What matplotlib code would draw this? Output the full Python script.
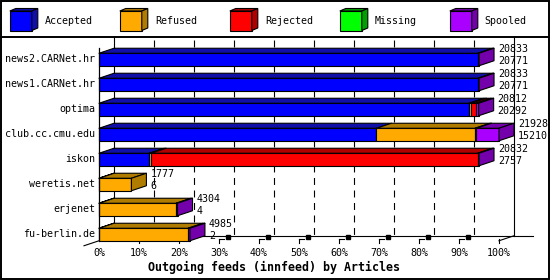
"""Outgoing feeds (innfeed) by Articles - 3D stacked bars, innreport style."""

import matplotlib
matplotlib.use("Agg")
import matplotlib.pyplot as plt
from matplotlib.patches import Polygon, Rectangle
from matplotlib.collections import PolyCollection
import numpy as np

plt.rcParams["font.family"] = ["DejaVu Sans Mono"]
plt.rcParams["lines.scale_dashes"] = False

hosts = ["news2.CARNet.hr", "news1.CARNet.hr", "optima", "club.cc.cmu.edu",
         "iskon", "weretis.net", "erjenet", "fu-berlin.de"]
categories = ["Accepted", "Refused", "Rejected", "Missing", "Spooled"]
accepted = [20771, 20771, 20292, 15210, 2757, 6, 4, 2]
refused = [0, 0, 120, 5410, 100, 1771, 4220, 4880]
rejected = [0, 0, 260, 70, 17900, 0, 0, 0]
missing = [0, 0, 0, 0, 0, 0, 0, 0]
spooled = [62, 62, 140, 1238, 75, 0, 80, 103]
totals = [20833, 20833, 20812, 21928, 20832, 1777, 4304, 4985]
tick_labels = ["0%", "10%", "20%", "30%", "40%", "50%",
               "60%", "70%", "80%", "90%", "100%"]

front_colors = ["#0000ff", "#ffaa00", "#ff0000", "#00ff00", "#aa00ff"]
dark_colors = ["#1010a8", "#b07c00", "#b00000", "#00a000", "#7400ac"]

W, H = 550, 280
M = max(totals)
PX = M / 400.0          # articles per pixel along x
ROW = 25.0              # pixels per row
DX = 15 * PX            # depth offset (x, data units)
DY = -5 / ROW           # depth offset (y, rows)
BH = 0.5                # bar height in rows


def main() -> None:
    fig = plt.figure(figsize=(W / 100, H / 100), dpi=100)
    ax = fig.add_axes([0, 0, 1, 1])
    ax.set_xlim(-99 * PX, (W - 99) * PX)
    ax.set_ylim((H - 59.5) / ROW, -59.5 / ROW)
    ax.axis("off")

    rows = np.arange(len(hosts))
    series = np.array([accepted, refused, rejected, missing, spooled], dtype=float)
    floor_back = rows[-1] + BH / 2 + DY
    floor_front = rows[-1] + BH / 2
    top_y = (40 - 59.5) / ROW
    sep_y = (37 - 59.5) / ROW

    # back wall grid
    for k in range(11):
        xb = k * M / 10 + DX
        if k in (0, 10):
            ax.plot([xb, xb], [sep_y, floor_back], color="black", lw=0.8, zorder=1)
        else:
            ax.plot([xb, xb], [top_y, floor_back], color="black", lw=0.8,
                    dashes=(5, 4), zorder=1)
    # floor
    ax.plot([DX, M + DX + 19 * PX], [floor_back, floor_back], color="black", lw=0.8, zorder=1)
    ax.plot([M, M + DX], [floor_front, floor_back], color="black", lw=0.8, zorder=1)
    ax.plot([-15 * PX, 0], [floor_front - DY, floor_front], color="black", lw=0.8, zorder=1)
    # front axis
    ax.plot([0, 0], [(48 - 59.5) / ROW, floor_front], color="black", lw=0.9, zorder=5)

    # ticks along the front edge
    for k in range(1, 11):
        xf = k * M / 10
        ax.plot([xf, xf], [floor_front + 2 / ROW, floor_front - 2 / ROW],
                color="black", lw=0.8, zorder=1)
        if k < 10:
            ax.plot([xf, xf + 5 * PX], [floor_front - 2 / ROW, floor_front - 2 / ROW],
                    color="black", lw=0.8, zorder=1)
            ax.plot([xf + 8.5 * PX], [floor_front - 3.5 / ROW], marker="s", ms=2.2,
                    color="black", zorder=1)
        ax.text(xf - M / 10 * (k == 0), floor_front + 12 / ROW, tick_labels[k],
                ha="center", va="center", fontsize=7.2)
    ax.text(0, floor_front + 12 / ROW, tick_labels[0], ha="center", va="center", fontsize=7.2)

    # bars
    lefts = np.zeros(len(hosts))
    for ci in range(len(categories)):
        vals = series[ci]
        mask = vals > 0
        ax.barh(rows[mask], vals[mask], left=lefts[mask], height=BH,
                color=front_colors[ci], edgecolor="black", linewidth=0.8, zorder=3)
        tops = []
        for r in rows[mask]:
            l, w = lefts[r], vals[r]
            yt = r - BH / 2
            tops.append([(l, yt), (l + w, yt), (l + w + DX, yt + DY), (l + DX, yt + DY)])
        ax.add_collection(PolyCollection(tops, facecolors=dark_colors[ci],
                                         edgecolors="black", linewidths=0.8, zorder=3))
        lefts = lefts + vals

    for r in rows:
        last = max(ci for ci in range(len(categories)) if series[ci][r] > 0)
        right = lefts[r]
        yt, yb = r - BH / 2, r + BH / 2
        ax.add_patch(Polygon([(right, yt), (right + DX, yt + DY), (right + DX, yb + DY),
                              (right, yb)], closed=True, facecolor=dark_colors[last],
                             edgecolor="black", linewidth=0.8, zorder=3))
        xl = totals[r] + DX + 4 * PX
        ax.text(xl, r - 10 / ROW, str(totals[r]), ha="left", va="center", fontsize=7.2, zorder=6)
        ax.text(xl, r + 2 / ROW, str(accepted[r]), ha="left", va="center", fontsize=7.2, zorder=6)
        ax.text(-4 * PX, r, hosts[r], ha="right", va="center", fontsize=7.2)

    # overlay in pixel units: frame, legend, title
    ov = fig.add_axes([0, 0, 1, 1], zorder=10)
    ov.set_xlim(0, W)
    ov.set_ylim(H, 0)
    ov.axis("off")
    ov.patch.set_alpha(0)
    ov.add_patch(Rectangle((1, 1), W - 2, H - 2, fill=False, edgecolor="black", lw=1.4))
    ov.plot([0, W], [36.5, 36.5], color="black", lw=1.4)

    for i, name in enumerate(categories):
        x0 = 9.8 + 110 * i
        fx, fy, fw, fh, d, dd = x0, 11, 22, 19.5, 6, 2.5
        ov.add_patch(Rectangle((fx, fy), fw, fh, facecolor=front_colors[i],
                               edgecolor="black", lw=0.8))
        ov.add_patch(Polygon([(fx, fy), (fx + d, fy - dd), (fx + fw + d, fy - dd), (fx + fw, fy)],
                             closed=True, facecolor=dark_colors[i], edgecolor="black", lw=0.8))
        ov.add_patch(Polygon([(fx + fw, fy), (fx + fw + d, fy - dd), (fx + fw + d, fy + fh - dd),
                              (fx + fw, fy + fh)], closed=True, facecolor=dark_colors[i],
                             edgecolor="black", lw=0.8))
        ov.text(x0 + 35, 21, name, ha="left", va="center", fontsize=7.2)

    ov.text(274.5, 267, "Outgoing feeds (innfeed) by Articles", ha="center", va="center",
            fontsize=8.4, fontweight="bold")

    fig.savefig("out.png", dpi=100)


if __name__ == "__main__":
    main()
